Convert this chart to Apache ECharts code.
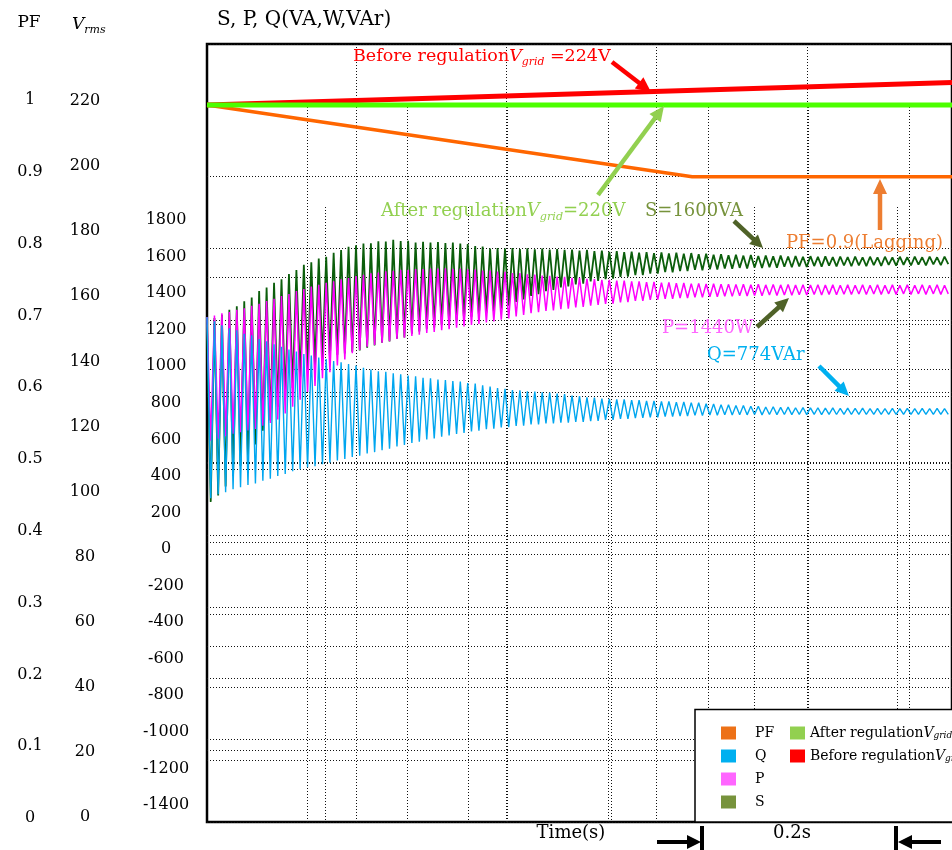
<!DOCTYPE html>
<html>
<head>
<meta charset="utf-8">
<script src="https://cdn.jsdelivr.net/npm/echarts@6/dist/echarts.min.js"></script>
<style>
  html, body { margin: 0; padding: 0; background: #fff; }
  #chart { width: 952px; height: 850px; }
</style>
</head>
<body>
<div id="chart"></div>
<script>
// ---- data ------------------------------------------------------------
// Time between a crest and the next trough of the power ripple (s)
const HALF_STEP = 0.004;

// Power factor (per unit)
const pfTimes  = [0, 0.521, 0.8];
const pfValues = [1.0, 0.9, 0.9];

// Grid voltage, RMS (V)
const vTimes   = [0, 0.8];
const vAfter   = [220, 220];
const vBefore  = [220, 226.9];

// Apparent power S (VA): crests and troughs
const sHigh = [1250,1286,1304,1331,1350,1377,1398,1434,1453,1479,
  1498,1526,1548,1577,1590,1611,1620,1643,1657,1675,
  1683,1693,1695,1706,1704,1714,1707,1708,1699,1703,
  1698,1702,1696,1699,1693,1691,1680,1676,1666,1669,
  1665,1668,1663,1667,1662,1665,1660,1663,1658,1660,
  1655,1658,1652,1655,1648,1652,1646,1649,1643,1646,
  1641,1644,1639,1643,1638,1641,1635,1638,1632,1635,
  1629,1632,1627,1630,1625,1628,1624,1627,1622,1625,
  1621,1624,1620,1623,1619,1622,1619,1622,1618,1621,
  1618,1621,1618,1621,1618,1621,1618,1621,1618,1621];
const sLow = [280,315,364,423,478,532,594,669,725,800,
  846,903,951,1003,1026,1057,1070,1085,1092,1101,
  1108,1123,1136,1151,1158,1173,1180,1200,1212,1227,
  1234,1249,1256,1271,1278,1293,1300,1315,1322,1337,
  1353,1374,1388,1407,1416,1432,1439,1453,1458,1470,
  1474,1486,1489,1499,1501,1511,1512,1521,1521,1529,
  1529,1537,1536,1543,1542,1549,1547,1553,1551,1557,
  1555,1560,1557,1562,1559,1564,1561,1566,1563,1568,
  1565,1570,1567,1572,1568,1573,1569,1574,1570,1575,
  1571,1576,1572,1577,1573,1578,1574,1579,1575,1580];

// Active power P (W): crests and troughs
const pHigh = [1291,1299,1311,1319,1331,1339,1353,1364,1379,1391,
  1406,1417,1433,1444,1458,1467,1479,1486,1498,1505,
  1516,1522,1531,1535,1542,1544,1549,1550,1554,1554,
  1557,1556,1558,1555,1556,1552,1551,1546,1545,1540,
  1538,1532,1531,1525,1524,1518,1517,1512,1511,1506,
  1505,1500,1499,1495,1494,1490,1490,1486,1486,1482,
  1483,1479,1480,1476,1477,1474,1475,1472,1473,1470,
  1471,1469,1470,1468,1470,1467,1469,1467,1469,1466,
  1468,1466,1468,1466,1467,1465,1467,1465,1467,1465,
  1467,1465,1467,1465,1467,1465,1467,1465,1467,1465];
const pLow = [615,626,639,653,661,671,679,696,711,731,
  764,801,839,881,914,956,989,1026,1059,1093,
  1111,1129,1139,1151,1159,1171,1178,1188,1194,1204,
  1209,1219,1224,1233,1239,1248,1253,1262,1267,1277,
  1284,1295,1302,1312,1317,1324,1327,1334,1337,1344,
  1347,1354,1357,1363,1365,1371,1373,1379,1380,1385,
  1386,1391,1391,1395,1395,1399,1399,1402,1402,1405,
  1404,1407,1406,1409,1408,1411,1409,1412,1410,1413,
  1411,1414,1412,1415,1413,1416,1414,1417,1414,1417,
  1415,1418,1415,1418,1415,1418,1415,1418,1415,1418];

// Reactive power Q (VAr): crests and troughs
const qHigh = [1290,1268,1246,1230,1219,1199,1191,1171,1159,1142,
  1129,1114,1103,1089,1081,1069,1061,1051,1044,1034,
  1026,1014,1004,994,991,984,978,971,967,959,
  956,949,947,941,938,930,927,917,911,902,
  898,892,890,885,884,879,878,873,869,862,
  859,852,850,845,844,840,840,836,837,833,
  833,829,830,826,827,823,822,817,816,811,
  811,807,807,803,803,799,800,797,798,795,
  796,794,795,793,794,792,793,791,793,790,
  792,790,792,790,791,790,791,790,791,790];
const qLow = [300,321,333,349,360,373,380,395,406,421,
  432,448,459,469,475,486,494,506,514,525,
  533,545,552,563,571,583,591,602,609,621,
  627,637,643,652,657,665,669,677,680,687,
  689,695,697,703,704,709,709,713,713,717,
  717,722,723,728,729,734,734,738,739,743,
  743,747,747,750,750,753,752,755,754,757,
  755,757,756,758,756,758,757,758,757,759,
  757,759,757,759,758,759,758,759,758,759,
  758,759,758,759,758,759,758,759,758,759];

// Tick label ranges: [min, max, step]
const pfTicks   = [0, 1, 0.1];
const vrmsTicks = [0, 220, 20];
const spqTicks  = [-1400, 1800, 200];
const timeRange = [0, 0.8];

// ---- helpers ---------------------------------------------------------
const SERIF = "'DejaVu Serif', 'Liberation Serif', serif";

function ripple(high, low) {
  const out = [];
  for (let i = 0; i < high.length; i++) {
    out.push([2 * i * HALF_STEP, high[i]]);
    out.push([(2 * i + 1) * HALF_STEP, low[i]]);
  }
  return out;
}
function pairs(xs, ys) { return xs.map((x, i) => [x, ys[i]]); }

const dotted = { type: [1, 2], color: '#111', width: 1 };
const L = 207, W = 768;

function hiddenX(gi) { return { type: 'value', gridIndex: gi, min: timeRange[0], max: timeRange[1], show: false }; }
function hiddenY(gi, min, max) { return { type: 'value', gridIndex: gi, min, max, show: false }; }
function dottedX(gi, n) {
  return { type: 'value', gridIndex: gi, min: 0, max: n, interval: 1,
    axisLine: { show: false }, axisTick: { show: false }, axisLabel: { show: false },
    splitLine: { show: true, lineStyle: dotted } };
}
function dottedY(gi, n) {
  return { type: 'value', gridIndex: gi, min: 0, max: n, interval: 1,
    axisLine: { show: false }, axisTick: { show: false }, axisLabel: { show: false },
    splitLine: { show: true, lineStyle: dotted } };
}
function labelY(gi, t, margin, decimals) {
  return { type: 'value', gridIndex: gi, min: t[0], max: t[1], interval: t[2],
    axisLine: { show: false }, axisTick: { show: false }, splitLine: { show: false },
    axisLabel: { margin, align: 'center', fontFamily: SERIF, fontSize: 16, color: '#000',
      formatter: v => String(+Number(v).toFixed(decimals)) } };
}

function arrow(x1, y1, x2, y2, color, w, headLen, headW) {
  const dx = x2 - x1, dy = y2 - y1, len = Math.hypot(dx, dy);
  const ux = dx / len, uy = dy / len;
  const bx = x2 - ux * headLen, by = y2 - uy * headLen;
  const nx = -uy * headW / 2, ny = ux * headW / 2;
  return [
    { type: 'line', z: 20, shape: { x1, y1, x2: bx + ux, y2: by + uy },
      style: { stroke: color, lineWidth: w, lineCap: 'butt' } },
    { type: 'polygon', z: 20, shape: { points: [[x2, y2], [bx + nx, by + ny], [bx - nx, by - ny]] },
      style: { fill: color } }
  ];
}
function label(x, y, text, size, color, align) {
  return { type: 'text', z: 20, x, y, style: { text, fontFamily: SERIF, fontSize: size, fill: color,
    align: align || 'left', verticalAlign: 'middle' } };
}
function gridLabel(x, y, main1, main2, size, color) {
  // text with an italic "V" and subscript "grid"
  return { type: 'text', z: 20, x, y, style: {
    text: '{a|' + main1 + '}{v|V}{s|grid}{a|' + main2 + '}',
    verticalAlign: 'middle', align: 'left',
    rich: {
      a: { fontFamily: SERIF, fontSize: size, fill: color, lineHeight: size + 6, verticalAlign: 'middle' },
      v: { fontFamily: SERIF, fontSize: size, fontStyle: 'italic', fill: color, lineHeight: size + 6, verticalAlign: 'middle' },
      s: { fontFamily: SERIF, fontSize: size * 0.62, fontStyle: 'italic', fill: color, lineHeight: 10, verticalAlign: 'bottom' }
    } } };
}

// ---- chart -------------------------------------------------------------
const chart = echarts.init(document.getElementById('chart'));

const graphics = [
  label(29, 23, 'PF', 17, '#000', 'center'),
  { type: 'text', z: 20, x: 72, y: 25, style: { text: '{v|V}{s|rms}', verticalAlign: 'middle',
      rich: { v: { fontFamily: SERIF, fontSize: 17, fontStyle: 'italic', fill: '#000', lineHeight: 22 },
              s: { fontFamily: SERIF, fontSize: 11, fontStyle: 'italic', fill: '#000', lineHeight: 10, verticalAlign: 'bottom' } } } },
  label(217, 20, 'S, P, Q(VA,W,VAr)', 20, '#000'),
  gridLabel(353, 56, 'Before regulation', ' =224V', 17.5, '#ff0000'),
  gridLabel(381, 211, 'After regulation', '=220V', 18, '#92d050'),
  label(645, 211, 'S=1600VA', 18, '#77933c'),
  label(786, 243, 'PF=0.9(Lagging)', 18, '#ed7d31'),
  label(662, 328, 'P=1440W', 18, '#ff66ff'),
  label(707, 355, 'Q=774VAr', 18, '#00b0f0'),
  ...arrow(612, 62, 651, 92, '#ff0000', 4.5, 15, 14),
  ...arrow(598, 195, 664, 106, '#92d050', 4.5, 15, 14),
  ...arrow(734, 221, 763, 248, '#4f6228', 4.5, 13, 13),
  ...arrow(880, 230, 880, 179, '#ed7d31', 4.5, 15, 14),
  ...arrow(757, 327, 789, 298, '#4f6228', 4.5, 14, 13),
  ...arrow(819, 366, 849, 396, '#00b0f0', 4.5, 14, 13),
  // legend frame
  { type: 'rect', z: 1, shape: { x: 695, y: 709.5, width: 300, height: 112.5 },
    style: { fill: '#fff', stroke: '#000', lineWidth: 1.5 } },
  // time axis caption and 0.2 s span marker
  label(571, 833, 'Time(s)', 18, '#000', 'center'),
  label(792, 833, '0.2s', 18, '#000', 'center'),
  ...arrow(657, 842, 701, 842, '#000', 4, 14, 14),
  { type: 'line', z: 20, shape: { x1: 702, y1: 826, x2: 702, y2: 852 }, style: { stroke: '#000', lineWidth: 4 } },
  ...arrow(941, 842, 898, 842, '#000', 4, 14, 14),
  { type: 'line', z: 20, shape: { x1: 896, y1: 826, x2: 896, y2: 852 }, style: { stroke: '#000', lineWidth: 4 } }
];

const option = {
  animation: false,
  backgroundColor: '#fff',
  grid: [
    { left: L, top: 44, width: W, height: 778, show: true, borderColor: '#000', borderWidth: 2.5, backgroundColor: 'transparent' }, // 0 frame, PF & Vrms data
    { left: L, top: 100, width: W, height: 718 },   // 1 PF labels
    { left: L, top: 101, width: W, height: 716 },   // 2 Vrms labels
    { left: L, top: 220, width: W, height: 585 },   // 3 S,P,Q labels
    { left: L, top: 224, width: W, height: 585 },   // 4 S,P,Q data
    { left: 307, top: 107, width: 602, height: 715 },   // 5 vertical lines
    { left: 356, top: 44, width: 451, height: 778 },    // 6 vertical lines
    { left: 325.7, top: 207, width: 571.6, height: 615 }, // 7 vertical lines
    { left: L, top: 324, width: W, height: 436 },   // 8 horizontal lines
    { left: L, top: 277, width: W, height: 462 }    // 9 horizontal lines
  ],
  xAxis: [
    hiddenX(0), hiddenX(1), hiddenX(2), hiddenX(3), hiddenX(4),
    dottedX(5, 6), dottedX(6, 3), dottedX(7, 4),
    hiddenX(8), hiddenX(9)
  ],
  yAxis: [
    { type: 'value', gridIndex: 0, min: 0, max: 1.0851, interval: 0.1,
      axisLine: { show: false }, axisTick: { show: false }, axisLabel: { show: false },
      splitLine: { show: true, lineStyle: dotted } },            // 0 PF data
    hiddenY(0, 0, 238.72),                                        // 1 Vrms data
    labelY(1, pfTicks, 177, 1),                                   // 2
    labelY(2, vrmsTicks, 122, 0),                                 // 3
    labelY(3, spqTicks, 41, 0),                                   // 4
    hiddenY(4, spqTicks[0], spqTicks[1]),                         // 5 S,P,Q data
    hiddenY(5, 0, 1), hiddenY(6, 0, 1), hiddenY(7, 0, 1),         // 6,7,8
    dottedY(8, 6), dottedY(9, 5)                                  // 9,10
  ],
  legend: [
    { left: 716, top: 721, orient: 'vertical', icon: 'rect', itemWidth: 15, itemHeight: 13, itemGap: 9,
      selectedMode: false, z: 5,
      data: [
        { name: 'PF', itemStyle: { color: '#ED7117' } },
        { name: 'Q', itemStyle: { color: '#00B0F0' } },
        { name: 'P', itemStyle: { color: '#FF66FF' } },
        { name: 'S', itemStyle: { color: '#77933C' } }
      ],
      formatter: n => '{g|}{t|' + n + '}',
      textStyle: { color: '#000', fontFamily: SERIF, fontSize: 14,
        rich: { g: { width: 14 }, t: { fontFamily: SERIF, fontSize: 14, color: '#000', lineHeight: 14 } } } },
    { left: 785, top: 721, orient: 'vertical', icon: 'rect', itemWidth: 15, itemHeight: 13, itemGap: 9,
      selectedMode: false, z: 5,
      data: [
        { name: 'After regulation', itemStyle: { color: '#92D050' } },
        { name: 'Before regulation', itemStyle: { color: '#FF0000' } }
      ],
      formatter: n => '{t|' + n + '}{v|V}{s|grid}',
      textStyle: { color: '#000', fontFamily: SERIF, fontSize: 14,
        rich: {
          t: { fontFamily: SERIF, fontSize: 14, color: '#000', lineHeight: 14 },
          v: { fontFamily: SERIF, fontSize: 14, fontStyle: 'italic', color: '#000', lineHeight: 14 },
          s: { fontFamily: SERIF, fontSize: 9, fontStyle: 'italic', color: '#000', lineHeight: 8, verticalAlign: 'bottom' }
        } } }
  ],
  graphic: { elements: graphics },
  series: [
    { name: 'S', type: 'line', xAxisIndex: 4, yAxisIndex: 5, showSymbol: false, silent: true,
      data: ripple(sHigh, sLow), lineStyle: { color: '#0b5e0b', width: 1.8 }, itemStyle: { color: '#0b5e0b' } },
    { name: 'P', type: 'line', xAxisIndex: 4, yAxisIndex: 5, showSymbol: false, silent: true,
      data: ripple(pHigh, pLow), lineStyle: { color: '#ff00ff', width: 1.5 }, itemStyle: { color: '#ff00ff' } },
    { name: 'Q', type: 'line', xAxisIndex: 4, yAxisIndex: 5, showSymbol: false, silent: true,
      data: ripple(qHigh, qLow), lineStyle: { color: '#00a6ef', width: 1.4 }, itemStyle: { color: '#00a6ef' } },
    { name: 'PF', type: 'line', xAxisIndex: 0, yAxisIndex: 0, showSymbol: false, silent: true,
      data: pairs(pfTimes, pfValues), lineStyle: { color: '#ff6600', width: 3.5 }, itemStyle: { color: '#ff6600' } },
    { name: 'Before regulation', type: 'line', xAxisIndex: 0, yAxisIndex: 1, showSymbol: false, silent: true,
      data: pairs(vTimes, vBefore), lineStyle: { color: '#ff0000', width: 5 }, itemStyle: { color: '#ff0000' } },
    { name: 'After regulation', type: 'line', xAxisIndex: 0, yAxisIndex: 1, showSymbol: false, silent: true,
      data: pairs(vTimes, vAfter), lineStyle: { color: '#4cff00', width: 5 }, itemStyle: { color: '#4cff00' } }
  ]
};

chart.setOption(option);
</script>
</body>
</html>
